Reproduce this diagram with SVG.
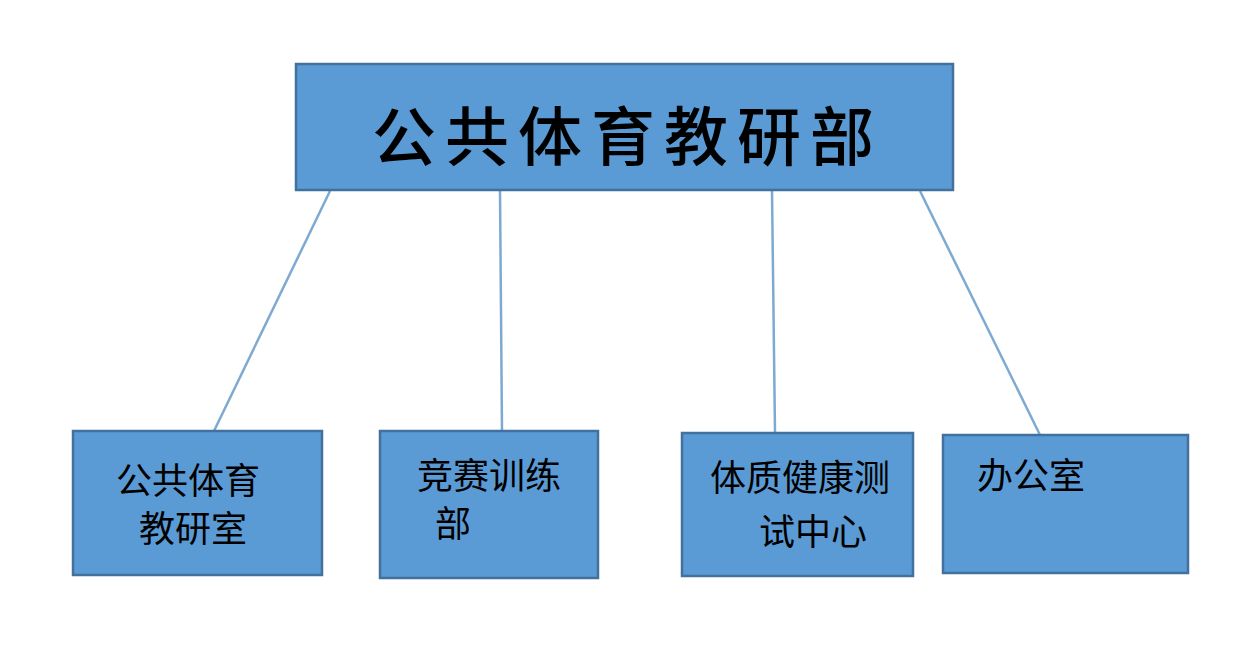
<svg xmlns="http://www.w3.org/2000/svg" width="1252" height="654" viewBox="0 0 1252 654">
<style>
.box{fill:#5b9bd5;stroke:#41719c;stroke-width:2.5}
.conn{stroke:#7eaad2;stroke-width:2.5;fill:none}
.t{font-family:"Noto Sans CJK SC","Noto Sans CJK JP",sans-serif;fill:#000}
.title{font-size:64px;letter-spacing:9px;font-weight:500}
.lbl{font-size:36px}
</style>
<rect width="1252" height="654" fill="#fff"/>
<g id="connectors">
<line class="conn" x1="330" y1="191" x2="214" y2="431"/>
<line class="conn" x1="500" y1="191" x2="502" y2="431"/>
<line class="conn" x1="772" y1="191" x2="775" y2="433"/>
<line class="conn" x1="920" y1="191" x2="1040" y2="435"/>
</g>
<g id="root">
<rect class="box" x="296" y="64" width="657" height="126"/>
<text class="t title" x="372" y="160">公共体育教研部</text>
</g>
<g id="n1">
<rect class="box" x="73" y="431" width="249" height="144"/>
<text class="t lbl" x="116" y="494">公共体育</text>
<text class="t lbl" x="139" y="542">教研室</text>
</g>
<g id="n2">
<rect class="box" x="380" y="431" width="218" height="147"/>
<text class="t lbl" x="417" y="489">竞赛训练</text>
<text class="t lbl" x="435" y="537">部</text>
</g>
<g id="n3">
<rect class="box" x="682" y="433" width="231" height="143"/>
<text class="t lbl" x="710" y="491">体质健康测</text>
<text class="t lbl" x="759" y="545">试中心</text>
</g>
<g id="n4">
<rect class="box" x="943" y="435" width="245" height="138"/>
<text class="t lbl" x="977" y="489">办公室</text>
</g>
</svg>
